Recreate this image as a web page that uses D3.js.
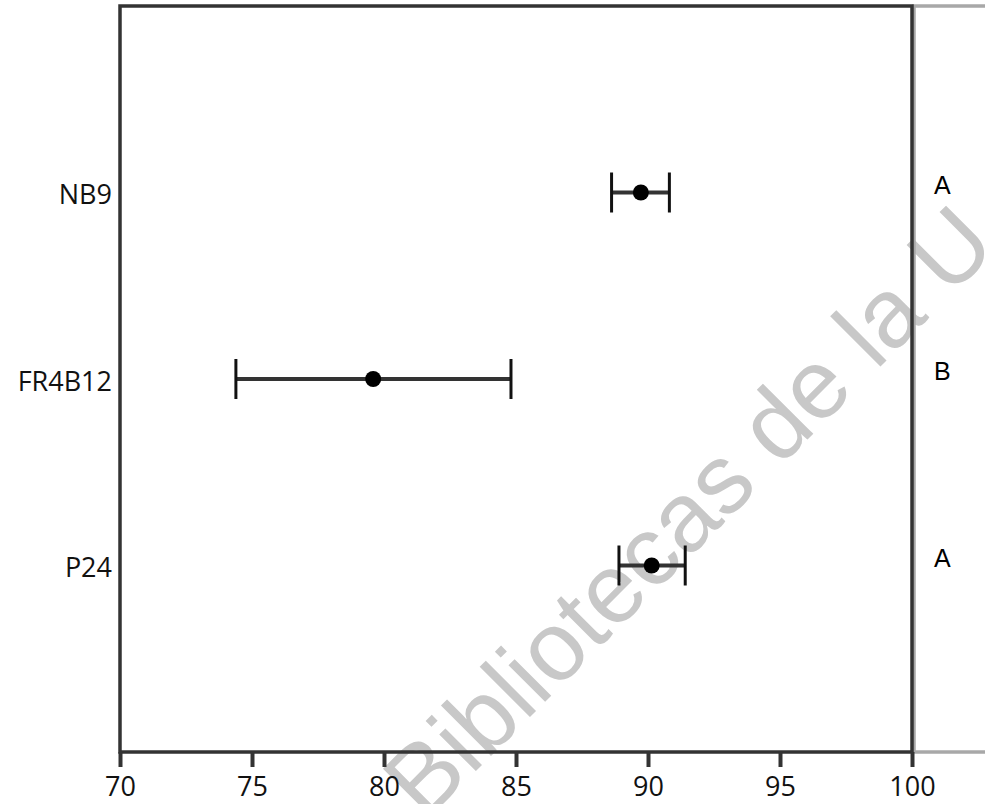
<!DOCTYPE html>
<html>
<head>
<meta charset="utf-8">
<script src="https://cdn.jsdelivr.net/npm/d3@7"></script>
<style>
  html, body { margin: 0; padding: 0; background: #fff; }
  svg { display: block; }
</style>
</head>
<body>
<svg id="chart" width="985" height="804"></svg>
<script>
// ---- data ----
const categories = ["NB9", "FR4B12", "P24"];
const means      = [89.73, 79.59, 90.14];
const lower      = [88.62, 74.39, 88.90];
const upper      = [90.81, 84.81, 91.41];
const groups     = ["A", "B", "A"];
const xTicks     = [70, 75, 80, 85, 90, 95, 100];
const watermark  = "Bibliotecas de la U";

// ---- layout ----
const W = 985, H = 804;
const L = 120, R = 912, T = 6, B = 752;

const svg = d3.select("#chart");

const x = d3.scaleLinear().domain([70, 100]).range([L, R]);
const y = d3.scalePoint().domain(categories).range([T, B]).padding(1);

const rows = categories.map((c, i) => ({ c, m: means[i], lo: lower[i], hi: upper[i], g: groups[i] }));

// watermark (underneath)
svg.append("text")
  .attr("transform", "translate(425,822) rotate(-45)")
  .attr("font-family", "'Liberation Sans', Arial, sans-serif")
  .attr("font-size", 98)
  .attr("fill", "#c8c8c8")
  .text(watermark);

// right gray panel
svg.append("rect")
  .attr("x", R + 2).attr("y", T)
  .attr("width", 200).attr("height", B - T)
  .attr("fill", "none").attr("stroke", "#a8a8a8").attr("stroke-width", 3.5);

// plot frame
svg.append("rect")
  .attr("x", L).attr("y", T)
  .attr("width", R - L).attr("height", B - T)
  .attr("fill", "none").attr("stroke", "#333").attr("stroke-width", 3.5);

// x axis
const xAxis = svg.append("g")
  .attr("transform", `translate(0,${B})`)
  .call(d3.axisBottom(x).tickValues(xTicks).tickSize(15).tickPadding(10).tickFormat(d3.format("d")));
xAxis.select(".domain").remove();
xAxis.selectAll(".tick line").attr("stroke", "#333").attr("stroke-width", 4);
xAxis.selectAll(".tick text")
  .attr("font-family", "'Open Sans', 'Noto Sans', sans-serif")
  .attr("font-size", 27).attr("fill", "#111");

// y axis labels
const yAxis = svg.append("g")
  .attr("transform", `translate(${L},0)`)
  .call(d3.axisLeft(y).tickSize(0).tickPadding(8));
yAxis.select(".domain").remove();
yAxis.selectAll(".tick text")
  .attr("font-family", "'Open Sans', 'Noto Sans', sans-serif")
  .attr("font-size", 27).attr("fill", "#111").attr("dy", "0.42em");

// error bars
const g = svg.append("g");
g.selectAll("line.bar").data(rows).join("line")
  .attr("class", "bar")
  .attr("x1", d => x(d.lo)).attr("x2", d => x(d.hi))
  .attr("y1", d => y(d.c)).attr("y2", d => y(d.c))
  .attr("stroke", "#333").attr("stroke-width", 4);
["lo", "hi"].forEach(k => {
  g.selectAll("line.cap-" + k).data(rows).join("line")
    .attr("class", "cap-" + k)
    .attr("x1", d => x(d[k])).attr("x2", d => x(d[k]))
    .attr("y1", d => y(d.c) - 20).attr("y2", d => y(d.c) + 20)
    .attr("stroke", "#111").attr("stroke-width", 3);
});
g.selectAll("circle").data(rows).join("circle")
  .attr("cx", d => x(d.m)).attr("cy", d => y(d.c)).attr("r", 8)
  .attr("fill", "#000");

// group letters
svg.append("g").selectAll("text").data(rows).join("text")
  .attr("x", 934).attr("y", d => y(d.c) + 1)
  .attr("font-family", "'Liberation Sans', Arial, sans-serif")
  .attr("font-size", 25).attr("fill", "#000")
  .text(d => d.g);
</script>
</body>
</html>
